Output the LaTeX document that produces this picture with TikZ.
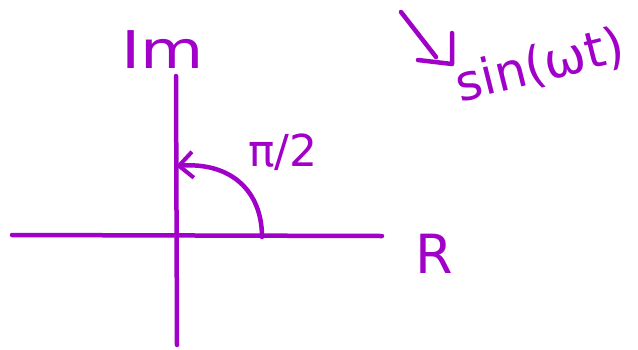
\documentclass[tikz,border=0pt]{standalone}
\usepackage{fontspec}
\setmainfont{DejaVu Sans}
\usetikzlibrary{arrows.meta}
\definecolor{ink}{RGB}{160,0,200}
\begin{document}
\begin{tikzpicture}[x=1pt,y=-1pt,
  stroke/.style={ink,line width=4.5pt,line cap=round,line join=round},
  hand/.style={ink,inner sep=0pt}]
\useasboundingbox (0,0) rectangle (638,349);
% axes
\coordinate (xl) at (12,235);
\coordinate (xr) at (382,236);
\coordinate (yt) at (176,76);
\coordinate (yb) at (177,345);
\draw[stroke] (xl) -- (xr);
\draw[stroke] (yt) -- (yb);
% arc pi/2
\coordinate (a0) at (262,237);
\coordinate (a1) at (176,166);
\draw[stroke,-{Straight Barb[length=14pt,width=26pt,line width=4pt]}] (a0) .. controls (262,190) and (230,162) .. (a1);
% labels
\node[hand,font=\fontsize{52}{52}\selectfont,xscale=1.25] (im) at (163,50) {Im};
\node[hand,font=\fontsize{44}{44}\selectfont] (pi) at (283,152) {π/2};
\node[hand,font=\fontsize{54}{54}\selectfont] (re) at (434,254) {R};
\node[hand,font=\fontsize{50}{50}\selectfont,rotate=14] (sin) at (540,66) {sin(ωt)};
% hooked arrow
\coordinate (h0) at (401,12);
\coordinate (hc) at (452,64);
\draw[stroke] (h0) -- (436,57);
\draw[stroke] (418,60) -- (hc) -- (452,33);
\end{tikzpicture}
\end{document}
